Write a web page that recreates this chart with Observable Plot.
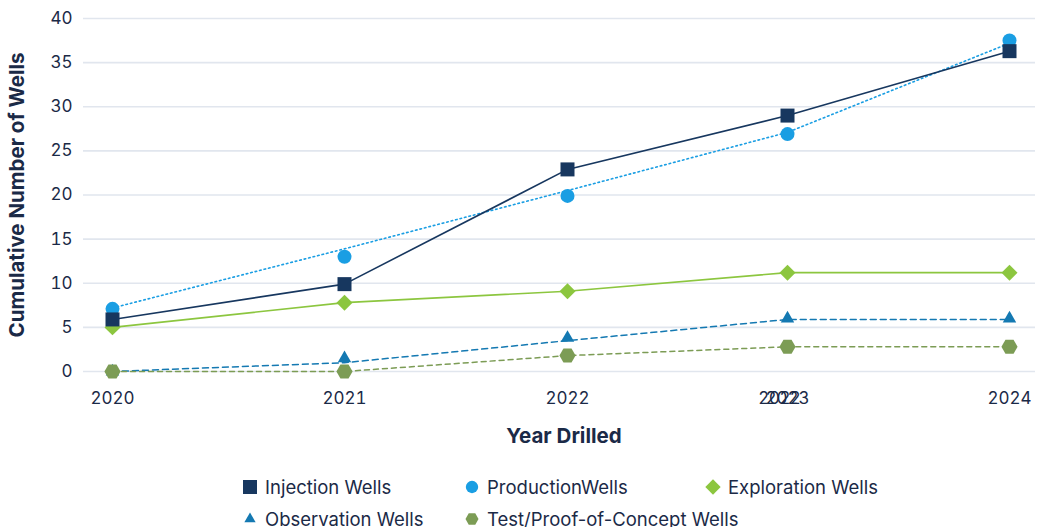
<!DOCTYPE html>
<html>
<head>
<meta charset="utf-8">
<script src="https://cdn.jsdelivr.net/npm/d3@7"></script>
<script src="https://cdn.jsdelivr.net/npm/@observablehq/plot@0.6"></script>
<style>
  html, body { margin: 0; padding: 0; background: #fff; }
  #wrap { position: relative; width: 1037px; height: 527px; overflow: hidden; font-family: Inter, "Noto Sans", sans-serif; color: #1b2a47; }
  #legend { position: absolute; left: 0; top: 0; width: 1037px; height: 527px; pointer-events: none; }
  .item { position: absolute; display: flex; align-items: center; font-size: 18.5px; white-space: nowrap; transform: translateY(-50%); }
  .item svg { margin-right: 8px; overflow: visible; }
</style>
</head>
<body>
<div id="wrap"><div id="chart"></div><div id="legend"></div></div>
<script>
// ---- data ----
const years = [2020, 2021, 2022, 2023, 2024];
const injectionWells = [5.9, 9.9, 22.9, 29.0, 36.3];
const productionPoints = [7.1, 13.0, 19.9, 26.9, 37.5];
const productionLine = [7.2, 13.9, 20.5, 27.1, 37.2];
const explorationWells = [5.0, 7.8, 9.1, 11.2, 11.2];
const observationPoints = [0, 1.5, 3.8, 6.0, 6.0];
const observationLine = [0, 1.0, 3.5, 5.9, 5.9];
const testWells = [0, 0, 1.8, 2.8, 2.8];
const yTicks = [0, 5, 10, 15, 20, 25, 30, 35, 40];
const seriesNames = ["Injection Wells", "ProductionWells", "Exploration Wells", "Observation Wells", "Test/Proof-of-Concept Wells"];
const strayTickLabel = [{year: 2023, label: "2022"}];
const yTitle = "Cumulative Number of Wells";
const xTitle = "Year Drilled";

const colors = {
  injection: "#17375f",
  production: "#1a9ee3",
  exploration: "#8cc63f",
  observation: "#1479b2",
  test: "#7c9c55"
};

const rows = (vals) => years.map((y, i) => ({year: y, value: vals[i]}));
const textColor = "#1b2a47";

const chart = Plot.plot({
  width: 1037,
  height: 460,
  marginTop: 18,
  marginBottom: 89,
  marginLeft: 112,
  marginRight: 28,
  style: {fontFamily: "Inter, 'Noto Sans', sans-serif", fontSize: "17px", color: textColor, background: "transparent"},
  x: {type: "linear", domain: years, range: [112, 344, 567, 787, 1009]},
  y: {domain: [0, 40]},
  marks: [
    Plot.ruleY(yTicks, {stroke: "#e1e6ee", strokeWidth: 1.6, insetLeft: -29, insetRight: -26}),
    Plot.axisY({ticks: yTicks, tickSize: 0, tickPadding: 40, label: null, fontSize: 17, fill: textColor}),
    Plot.axisX({ticks: years, tickFormat: d => String(d), tickSize: 0, tickPadding: 20, label: null, fontSize: 17, fill: textColor}),
    Plot.text(strayTickLabel, {x: "year", text: "label", frameAnchor: "bottom", dy: 32, dx: -8, fontSize: 17, fill: textColor}),
    // lines
    Plot.line(rows(observationLine), {x: "year", y: "value", stroke: colors.observation, strokeWidth: 1.5, strokeDasharray: "6 4"}),
    Plot.line(rows(testWells), {x: "year", y: "value", stroke: colors.test, strokeWidth: 1.5, strokeDasharray: "5 4"}),
    Plot.line(rows(productionLine), {x: "year", y: "value", stroke: colors.production, strokeWidth: 1.6, strokeDasharray: "1.6 3"}),
    Plot.line(rows(explorationWells), {x: "year", y: "value", stroke: colors.exploration, strokeWidth: 1.6}),
    Plot.line(rows(injectionWells), {x: "year", y: "value", stroke: colors.injection, strokeWidth: 1.6}),
    // markers
    Plot.dot(rows(observationPoints), {x: "year", y: "value", symbol: "triangle", r: 5, fill: colors.observation, stroke: "none"}),
    Plot.dot(rows(testWells), {x: "year", y: "value", symbol: "hexagon", r: 7, rotate: 90, fill: colors.test, stroke: "none"}),
    Plot.dot(rows(productionPoints), {x: "year", y: "value", symbol: "circle", r: 7, fill: colors.production, stroke: "none"}),
    Plot.dot(rows(explorationWells), {x: "year", y: "value", symbol: "diamond2", r: 7.2, fill: colors.exploration, stroke: "none"}),
    Plot.dot(rows(injectionWells), {x: "year", y: "value", symbol: "square", r: 7.9, fill: colors.injection, stroke: "none"}),
    // titles
    Plot.text([yTitle], {frameAnchor: "left", textAnchor: "middle", dx: -95, rotate: -90, fontSize: 20.5, fontWeight: "bold", fill: textColor}),
    Plot.text([xTitle], {frameAnchor: "bottom", textAnchor: "middle", dy: 71, dx: 3, fontSize: 20.5, fontWeight: "bold", fill: textColor})
  ]
});
document.getElementById("chart").appendChild(chart);

// ---- legend ----
const legendSpecs = [
  {name: seriesNames[0], symbol: d3.symbolSquare, size: 196, color: colors.injection, left: 243, top: 487},
  {name: seriesNames[1], symbol: d3.symbolCircle, size: 120, color: colors.production, left: 465, top: 487},
  {name: seriesNames[2], symbol: d3.symbolDiamond2, size: 150, color: colors.exploration, left: 706, top: 487},
  {name: seriesNames[3], symbol: d3.symbolTriangle, size: 55, color: colors.observation, left: 243, top: 519},
  {name: seriesNames[4], symbol: null, size: 120, color: colors.test, left: 465, top: 519}
];
const legend = d3.select("#legend");
for (const s of legendSpecs) {
  const item = legend.append("div").attr("class", "item").style("left", s.left + "px").style("top", s.top + "px");
  const svg = item.append("svg").attr("width", 14).attr("height", 14).attr("viewBox", "-7 -7 14 14");
  if (s.symbol) {
    svg.append("path").attr("d", d3.symbol(s.symbol, s.size)()).attr("fill", s.color);
  } else {
    const r = 6.5;
    const pts = d3.range(6).map(k => [r * Math.cos(k * Math.PI / 3), r * Math.sin(k * Math.PI / 3)]);
    svg.append("path").attr("d", "M" + pts.map(p => p.join(",")).join("L") + "Z").attr("fill", s.color);
  }
  item.append("span").text(s.name);
}
</script>
</body>
</html>
